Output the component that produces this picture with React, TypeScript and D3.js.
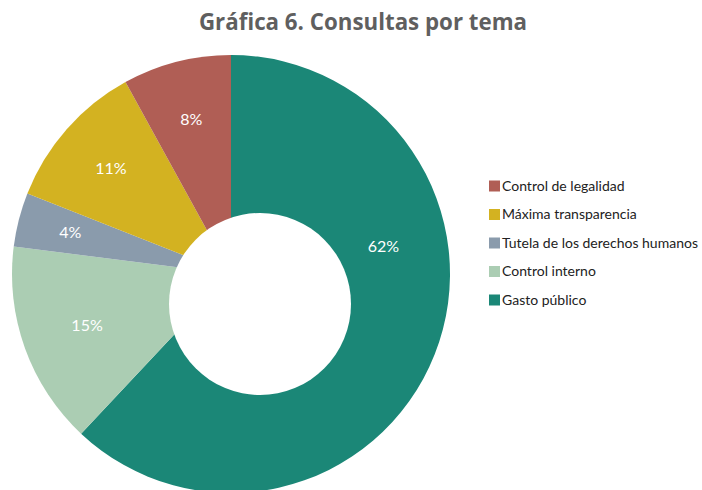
import React from "react";
import * as d3 from "d3";

const categories = [
  "Gasto público",
  "Control interno",
  "Tutela de los derechos humanos",
  "Máxima transparencia",
  "Control de legalidad",
];
const values = [62, 15, 4, 11, 8];
const colors = ["#1b8777", "#abcdb3", "#8a9bac", "#d3b221", "#b05e55"];
const legendOrder = [4, 3, 2, 1, 0];
const title = "Gráfica 6. Consultas por tema";

const W = 702;
const H = 490;

export default function App() {
  const cx = 231;
  const cy = 274;
  const R = 219;

  const pie = d3
    .pie<number>()
    .sort(null)
    .value((d) => d)
    .startAngle(0)
    .endAngle(2 * Math.PI);
  const arcs = pie(values);
  const arc = d3.arc<d3.PieArcDatum<number>>().innerRadius(0).outerRadius(R);

  const labelPos = (a: d3.PieArcDatum<number>, i: number) => {
    const span = a.endAngle - a.startAngle;
    const ang = i === 0 ? a.startAngle + span * 0.357 : a.startAngle + span / 2;
    const r = i === 0 ? 155 : i === 2 ? 166 : i === 1 ? 153 : 160;
    return [Math.sin(ang) * r, -Math.cos(ang) * r];
  };

  return (
    <div style={{ position: "fixed", left: 0, top: 0 }}>
      <svg width={W} height={H} style={{ display: "block", background: "#fff" }}>
        <text
          x={363}
          y={30}
          textAnchor="middle"
          fontFamily="'Open Sans', Lato, sans-serif"
          fontWeight={700}
          fontSize={22.3}
          fill="#5f5f5f"
        >
          {title}
        </text>
        <g transform={`translate(${cx},${cy})`}>
          {arcs.map((a, i) => (
            <path key={i} d={arc(a) || ""} fill={colors[i]} />
          ))}
          <circle cx={29} cy={30} r={91} fill="#ffffff" />
          {arcs.map((a, i) => {
            const [x, y] = labelPos(a, i);
            return (
              <text
                key={i}
                x={x}
                y={y}
                dy="0.35em"
                textAnchor="middle"
                fontFamily="Lato, 'Open Sans', sans-serif"
                fontSize={16}
                fill="#ffffff"
              >
                {values[i]}%
              </text>
            );
          })}
        </g>
        <g transform="translate(489,186)">
          {legendOrder.map((idx, k) => (
            <g key={idx} transform={`translate(0,${k * 28.5})`}>
              <rect x={0} y={-5.5} width={11} height={11} fill={colors[idx]} />
              <text
                x={13}
                y={0}
                dy="0.35em"
                fontFamily="Lato, 'Open Sans', sans-serif"
                fontSize={14}
                fill="#222"
              >
                {categories[idx]}
              </text>
            </g>
          ))}
        </g>
      </svg>
    </div>
  );
}
